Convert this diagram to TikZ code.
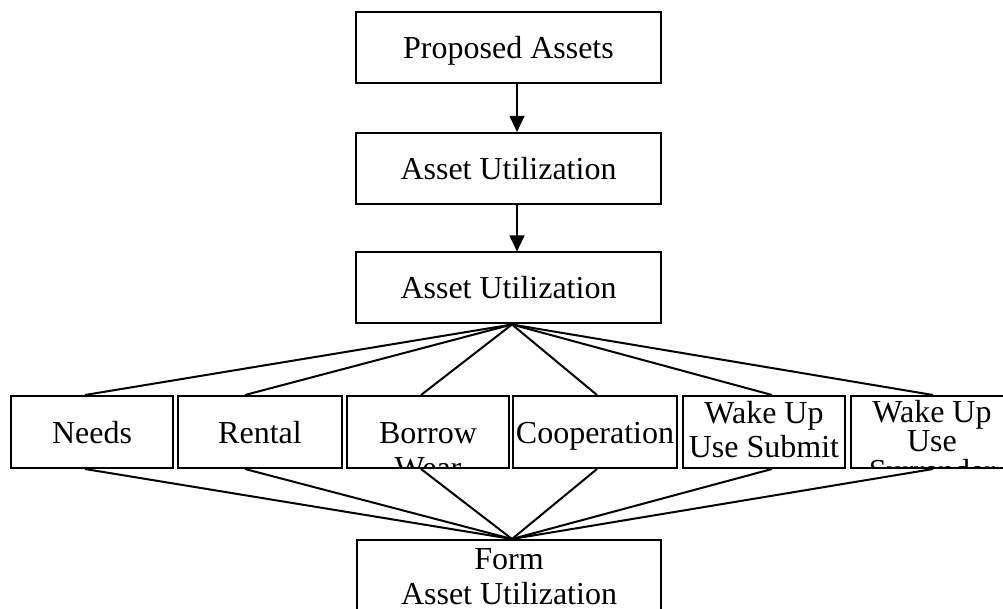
\documentclass[tikz,border=0pt]{standalone}
\usepackage{fontspec}
\setmainfont{Liberation Serif}
\usetikzlibrary{calc,arrows.meta}
% centred lines whose baseline is that of the first line; optional line pitch in px
\newcommand\stacklines[2][34]{\vtop{\baselineskip=#1\dimexpr 0.75pt\relax\lineskiplimit=-100pt\halign{\hfil##\hfil\cr#2\crcr}}}

\begin{document}
\begin{tikzpicture}[x=0.75pt,y=-0.75pt,
  box/.style={draw, line width=1.5pt, rectangle, inner sep=0pt, minimum height=71*0.75pt},
  wide/.style={minimum width=305*0.75pt},
  cell/.style={minimum width=#1*0.75pt, minimum height=72*0.75pt},
  txt/.style={anchor=base, inner sep=0pt, font=\fontsize{24pt}{26pt}\selectfont},
  boxtext/.style n args={3}{path picture={\node[txt] (#1) at ($(path picture bounding box.center)+(0,#2)$) {#3};}},
  link/.style={line width=1.5pt},
  flow/.style={line width=1.5pt, -{Triangle[width=11pt,length=12pt]}}
]
\useasboundingbox (0,0) rectangle (1003,609);
\clip (0,0) rectangle (1003,609);

% main column
\node[box, wide, boxtext={t-assets}{11.5}{Proposed Assets}] (assets) at (508.5,47.5) {};
\node[box, wide, boxtext={t-util1}{11.5}{Asset Utilization}] (util1) at (508.5,168.5) {};
\node[box, wide, boxtext={t-util2}{10.5}{Asset Utilization}] (util2) at (508.5,288) {};

% row of utilisation modes
\node[box, cell=162, boxtext={t-needs}{11}{Needs}] (needs) at (92,432) {};
\node[box, cell=164, boxtext={t-rental}{11}{Rental}] (rental) at (260,432) {};
\node[box, cell=162, boxtext={t-borrow}{11}{\stacklines[36]{Borrow\cr Wear}}] (borrow) at (428,432) {};
\node[box, cell=164, boxtext={t-coop}{11}{Cooperation}] (coop) at (595,432) {};
\node[box, cell=162, boxtext={t-submit}{-9}{\stacklines[34]{Wake Up\cr Use Submit}}] (submit) at (764,432) {};
\node[box, cell=162, boxtext={t-surr}{-10}{\stacklines[29.5]{Wake Up\cr Use\cr Surrender}}] (surr) at (932,432) {};

% result
\node[box, minimum width=304*0.75pt, boxtext={t-form}{-6.5}{\stacklines[35]{Form\cr Asset Utilization}}] (form) at (509,575.5) {};

% arrows down the column
\draw[flow] ($(assets.south)+(8.5,0)$) -- ($(util1.north)+(8.5,0)$);
\draw[flow] ($(util1.south)+(8.5,0)$) -- ($(util2.north)+(8.5,0)$);

% fan out and fan in
\coordinate (hub) at ($(util2.south)+(3.5,0)$);
\coordinate (sink) at ($(form.north)+(3,0)$);
\foreach \n/\dx in {needs/-7, rental/-15, borrow/-7, coop/2, submit/8, surr/1} {
  \draw[link] (hub) -- ($(\n.north)+(\dx,0)$);
  \draw[link] ($(\n.south)+(\dx,0)$) -- (sink);
}
\end{tikzpicture}
\end{document}
